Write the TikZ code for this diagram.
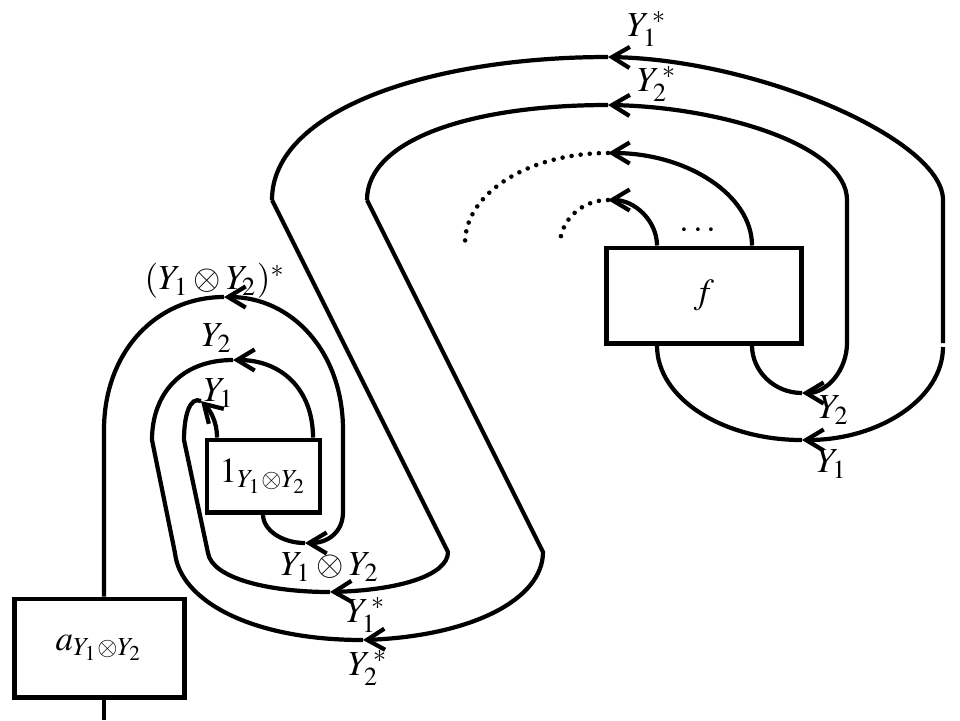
\documentclass[tikz,border=0pt]{standalone}
\usepackage{mathptmx}
\usetikzlibrary{arrows.meta}

\begin{document}
\begin{tikzpicture}[x=0.01cm, y=-0.01cm,
  box/.style={rectangle, draw, line width=1.4pt, fill=white, inner sep=0pt},
  wire/.style={line width=1.2pt},
  arr/.style={wire, -{Straight Barb[length=5pt, width=6pt, line width=1.2pt]}},
  dots/.style={line width=1.3pt, line cap=round, dash pattern=on 0pt off 2.6pt},
  lbl/.style={inner sep=0pt}
]
\useasboundingbox (0,0) rectangle (960,720);

% Boxes
\node[box, minimum width=1.69cm, minimum height=0.98cm] (abox)   at (99.5,648) {$a_{Y_1\otimes Y_2}$};
\node[box, minimum width=1.13cm, minimum height=0.72cm] (onebox) at (263.5,476) {$1_{Y_1\otimes Y_2}$};
\node[box, minimum width=1.94cm, minimum height=0.95cm] (fbox)   at (704,295.5) {$f$};

% Arrow points
\coordinate (tA) at (224,297);
\coordinate (tB) at (305,543);
\coordinate (tC) at (233,360);
\coordinate (tD) at (363,640);
\coordinate (tE) at (201,401);
\coordinate (tF) at (330,592);
\coordinate (tG) at (608,57);
\coordinate (tH) at (802,440);
\coordinate (tI) at (608,105);
\coordinate (tJ) at (802,393);
\coordinate (tK) at (608,153);
\coordinate (tL) at (608,200);

% Left part
\draw[wire] (104,0 |- abox.south) -- (104,720);
\draw[arr]  (343,430) .. controls (343,352) and (292,297) .. (tA);
\draw[wire] (tA) .. controls (156,297) and (104,352) .. (104,430) -- (104,0 |- abox.north);
\draw[arr]  (343,430) -- (343,512) .. controls (343,532) and (328,543) .. (tB);
\draw[wire] (tB) .. controls (282,543) and (263,530) .. (263,0 |- onebox.south);
\draw[arr]  (313,0 |- onebox.north) .. controls (313,390) and (282,360) .. (tC);
\draw[wire] (tC) .. controls (180,360) and (152,395) .. (152,440) -- (175,553)
            .. controls (180,600) and (250,640) .. (tD);
\draw[arr]  (217,0 |- onebox.north) .. controls (217,420) and (209,409) .. (tE);
\draw[wire] (tE) .. controls (190,396) and (184,415) .. (184,440) -- (208,553)
            .. controls (212,578) and (268,592) .. (tF);

% S part
\draw[arr]  (272,200) -- (448,552) .. controls (448,575) and (400,590) .. (tF);
\draw[arr]  (367,200) -- (543,552) .. controls (543,600) and (470,636) .. (tD);
\draw[wire] (272,200) .. controls (272,110) and (430,57) .. (tG);
\draw[wire] (367,200) .. controls (367,140) and (470,105) .. (tI);

% Right part
\draw[arr]  (943,343) -- (943,200) .. controls (943,140) and (760,60) .. (tG);
\draw[arr]  (943,347) .. controls (943,398) and (880,440) .. (tH);
\draw[wire] (tH) .. controls (722,440) and (657,398) .. (657,0 |- fbox.south);
\draw[arr]  (847,343) -- (847,200) .. controls (847,145) and (720,107) .. (tI);
\draw[arr]  (847,343) .. controls (847,370) and (827,393) .. (tJ);
\draw[wire] (tJ) .. controls (774,393) and (752,371) .. (752,0 |- fbox.south);
\draw[arr]  (752,0 |- fbox.north) .. controls (752,195) and (687,153) .. (tK);
\draw[dots] (tK) .. controls (529,153) and (465,193) .. (465,243);
\draw[arr]  (657,0 |- fbox.north) .. controls (657,221) and (635,200) .. (tL);
\draw[dots] (tL) .. controls (582,200) and (560,220) .. (560,245);
\node[lbl] (dd) at (698,231) {$\cdots$};

% Labels
\node[lbl] (lab1) at (215,281) {$(Y_1 \otimes Y_2)^*$};
\node[lbl] (lab2) at (217,338) {$Y_2$};
\node[lbl] (lab3) at (219,393) {$Y_1$};
\node[lbl] (lab4) at (330,567) {$Y_1 \otimes Y_2$};
\node[lbl] (lab5) at (366,615) {$Y_1^{\,*}$};
\node[lbl] (lab6) at (368,668) {$Y_2^{\,*}$};
\node[lbl] (lab7) at (647,29) {$Y_1^{\,*}$};
\node[lbl] (lab8) at (657,84) {$Y_2^{\,*}$};
\node[lbl] (lab9) at (834,410) {$Y_2$};
\node[lbl] (lab10) at (832,464) {$Y_1$};
\end{tikzpicture}
\end{document}
